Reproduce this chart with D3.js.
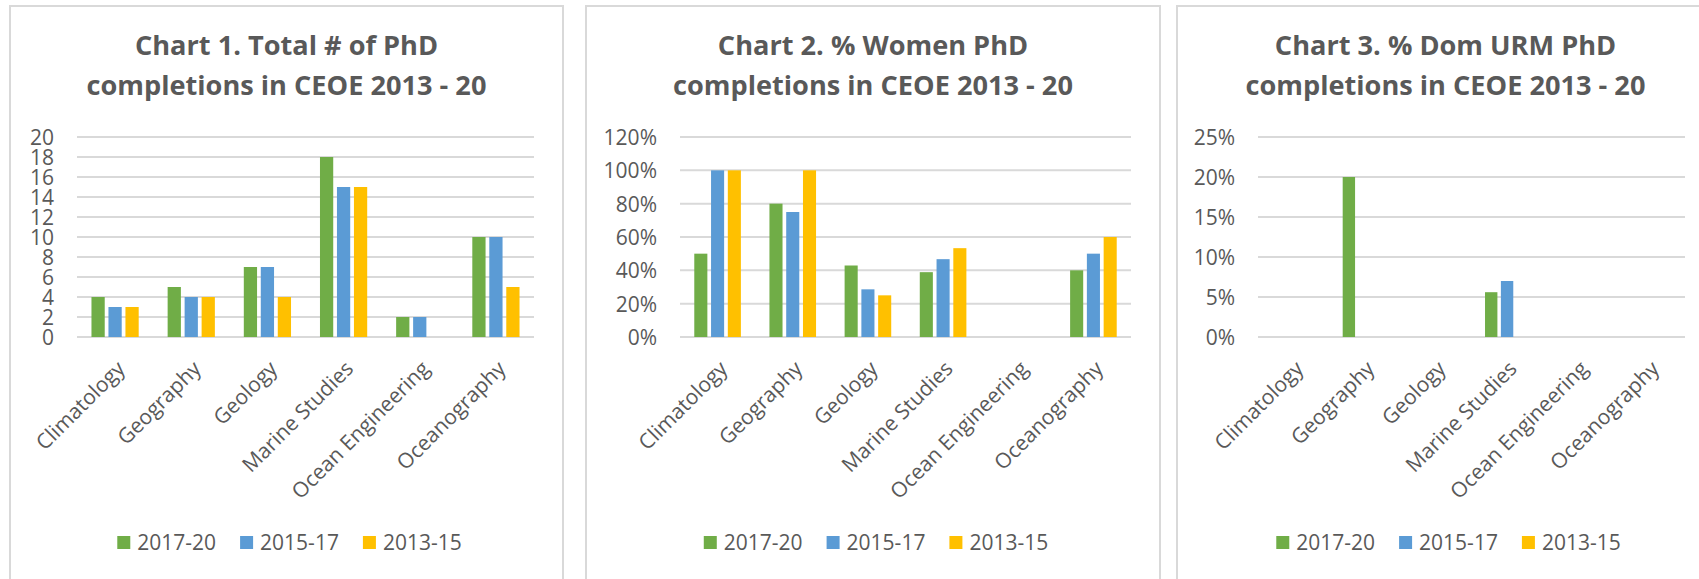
<!DOCTYPE html>
<html>
<head>
<meta charset="utf-8">
<script src="https://cdn.jsdelivr.net/npm/d3@7"></script>
<style>
  body { margin: 0; background: #fff; }
  svg { display: block; }
  text { font-family: "Open Sans", Lato, sans-serif; fill: #595959; }
  .title { font-weight: bold; font-size: 26px; }
  .ylab { font-size: 21px; }
  .cat { font-size: 21px; }
  .leg { font-size: 21px; }
</style>
</head>
<body>
<svg id="chart" width="1699" height="579"></svg>
<script>
var categories = ["Climatology", "Geography", "Geology", "Marine Studies", "Ocean Engineering", "Oceanography"];
var seriesNames = ["2017-20", "2015-17", "2013-15"];
var seriesColors = ["#70ad47", "#5b9bd5", "#ffc000"];

// chart 1: number of PhD completions
var total2017_20 = [4, 5, 7, 18, 2, 10];
var total2015_17 = [3, 4, 7, 15, 2, 10];
var total2013_15 = [3, 4, 4, 15, 0, 5];
var ticks1 = [0, 2, 4, 6, 8, 10, 12, 14, 16, 18, 20];

// chart 2: % women
var women2017_20 = [50, 80, 42.9, 38.9, 0, 40];
var women2015_17 = [100, 75, 28.6, 46.7, 0, 50];
var women2013_15 = [100, 100, 25, 53.3, 0, 60];
var ticks2 = [0, 20, 40, 60, 80, 100, 120];

// chart 3: % domestic URM
var urm2017_20 = [0, 20, 0, 5.6, 0, 0];
var urm2015_17 = [0, 0, 0, 7, 0, 0];
var urm2013_15 = [0, 0, 0, 0, 0, 0];
var ticks3 = [0, 5, 10, 15, 20, 25];

var titles1 = ["Chart 1. Total # of PhD", "completions in CEOE 2013 - 20"];
var titles2 = ["Chart 2. % Women PhD", "completions in CEOE 2013 - 20"];
var titles3 = ["Chart 3. % Dom URM PhD", "completions in CEOE 2013 - 20"];

var svg = d3.select("#chart");

function drawPanel(p) {
	var g = svg.append("g");

	g.append("rect")
		.attr("x", p.box[0]).attr("y", 6)
		.attr("width", p.box[1] - p.box[0]).attr("height", 620)
		.attr("fill", "#fff").attr("stroke", "#d9d9d9").attr("stroke-width", 2);

	var cx = (p.box[0] + p.box[1]) / 2;
	var titles = g.selectAll(".title").data(p.titles).enter().append("text")
		.attr("class", "title")
		.attr("x", cx)
		.attr("y", (d, i) => 55 + i * 40)
		.attr("text-anchor", "middle")
		.text(d => d);
	// second title line is ~400px wide in the original
	var len = titles.nodes()[1].getComputedTextLength();
	titles.style("font-size", (26 * 400 / len) + "px");

	var y = d3.scaleLinear().domain([0, p.max]).range([337, 137]);
	var x = d3.scaleBand().domain(categories).range(p.plot);
	var group = x.bandwidth() * 0.62;
	var xs = d3.scaleBand().domain(seriesNames)
		.range([(x.bandwidth() - group) / 2, (x.bandwidth() + group) / 2])
		.paddingInner(0.22);

	// gridlines
	g.selectAll(".grid").data(p.ticks).enter().append("line")
		.attr("x1", p.plot[0]).attr("x2", p.plot[1])
		.attr("y1", d => y(d)).attr("y2", d => y(d))
		.attr("stroke", "#d9d9d9").attr("stroke-width", 2);

	var yAxis = g.append("g")
		.attr("transform", "translate(" + (p.plot[0] - 23) + ",0)")
		.call(d3.axisLeft(y).tickValues(p.ticks).tickSize(0).tickPadding(0).tickFormat(p.fmt));
	yAxis.select(".domain").remove();
	yAxis.attr("font-family", null).attr("font-size", null);
	yAxis.selectAll("text").attr("class", "ylab").attr("fill", null).attr("dy", "0.36em");

	// bars
	var layers = g.selectAll(".layer").data(p.values).enter().append("g")
		.attr("fill", (d, i) => seriesColors[i]);
	layers.selectAll("rect").data((d, i) => d.map((v, j) => ({ s: seriesNames[i], c: categories[j], v: v })))
		.enter().append("rect")
		.attr("x", d => x(d.c) + xs(d.s))
		.attr("width", xs.bandwidth())
		.attr("y", d => y(d.v))
		.attr("height", d => y(0) - y(d.v));

	// category labels
	g.selectAll(".cat").data(categories).enter().append("text")
		.attr("class", "cat")
		.attr("text-anchor", "end")
		.attr("transform", d => "translate(" + (x(d) + x.bandwidth() / 2 + 11) + ",370) rotate(-45)")
		.text(d => d);

	// legend
	var leg = g.append("g");
	var pos = 0;
	seriesNames.forEach(function(s, i) {
		leg.append("rect").attr("x", pos).attr("y", 536).attr("width", 13).attr("height", 13)
			.attr("fill", seriesColors[i]);
		var t = leg.append("text").attr("class", "leg").attr("x", pos + 20).attr("y", 550).text(s);
		pos += 20 + t.node().getComputedTextLength() + 24;
	});
	var legW = pos - 24;
	leg.attr("transform", "translate(" + (cx + 3 - legW / 2) + ",0)");
}

drawPanel({
	box: [10, 563], plot: [77, 534], titles: titles1, max: 20, ticks: ticks1,
	fmt: d => d, values: [total2017_20, total2015_17, total2013_15]
});
drawPanel({
	box: [586, 1160], plot: [680, 1131], titles: titles2, max: 120, ticks: ticks2,
	fmt: d => d + "%", values: [women2017_20, women2015_17, women2013_15]
});
drawPanel({
	box: [1177, 1714], plot: [1258, 1685], titles: titles3, max: 25, ticks: ticks3,
	fmt: d => d + "%", values: [urm2017_20, urm2015_17, urm2013_15]
});
</script>
</body>
</html>
